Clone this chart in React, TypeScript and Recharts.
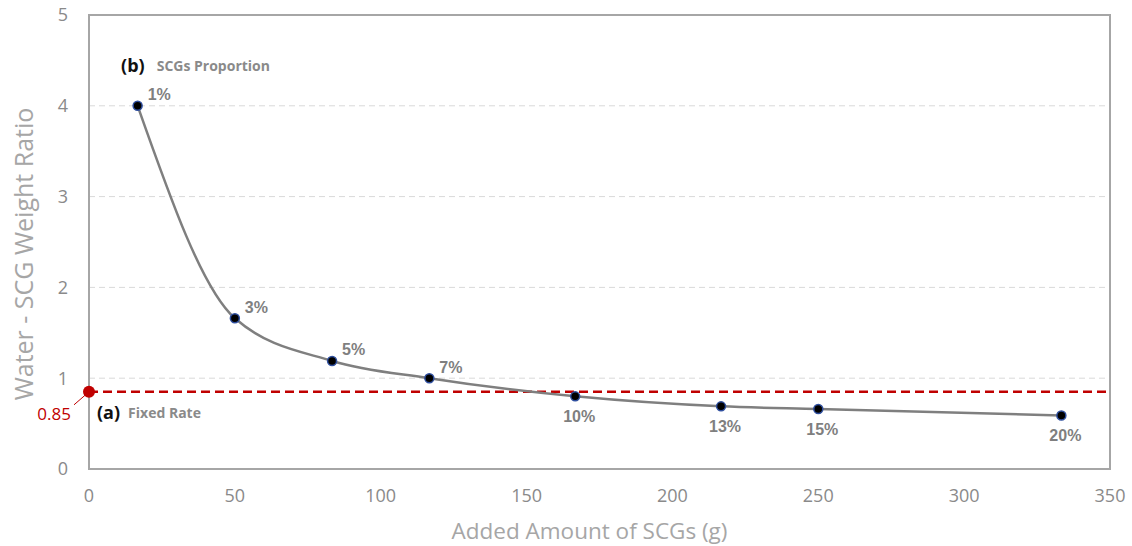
import { LineChart, Line, XAxis, YAxis, CartesianGrid, ReferenceLine, ReferenceDot, ReferenceArea, LabelList } from "recharts";

const SCG_ADDED = [16.67, 50, 83.33, 116.67, 166.67, 216.67, 250, 333.33];
const WATER_RATIO = [4.0, 1.66, 1.19, 1.0, 0.8, 0.69, 0.66, 0.59];
const PROPORTION = ["1%", "3%", "5%", "7%", "10%", "13%", "15%", "20%"];
const X_TICKS = [0, 50, 100, 150, 200, 250, 300, 350];
const Y_TICKS = [0, 1, 2, 3, 4, 5];
const FIXED_RATE = 0.85;

const GRAY_TEXT = "#8a8a8a";
const RED = "#c00000";

const data = SCG_ADDED.map((x, i) => ({ x, ratio: WATER_RATIO[i], label: PROPORTION[i] }));

function PointLabel(props: any) {
  const { x, y, index, value } = props;
  const below = index >= 4;
  return (
    <text
      x={below ? x + 4 : x + 10}
      y={below ? y + 20 : y - 11}
      textAnchor={below ? "middle" : "start"}
      dominantBaseline="central"
      fontFamily="Liberation Sans, Arial, sans-serif"
      fontWeight={700}
      fontSize={16}
      fill="#7f7f7f"
    >
      {value}
    </text>
  );
}

function FixedRateMarker(props: any) {
  const { cx, cy } = props;
  return (
    <g>
      <line x1={cx} y1={cy} x2={cx - 15} y2={cy + 13} stroke={RED} strokeWidth={1} />
      <circle cx={cx} cy={cy} r={6} fill={RED} />
      <text x={cx - 18} y={cy + 22} textAnchor="end" dominantBaseline="central" fontSize={17} fill={RED}>
        {FIXED_RATE}
      </text>
      <text x={cx + 8} y={cy + 20} dominantBaseline="central">
        <tspan fontWeight={700} fontSize={18} fill="#111">(a)</tspan>
        <tspan dx={8} fontWeight={700} fontSize={14} fill={GRAY_TEXT}>Fixed Rate</tspan>
      </text>
    </g>
  );
}

function ProportionTitle(props: any) {
  const { cx, cy } = props;
  return (
    <text x={cx} y={cy} dominantBaseline="central">
      <tspan fontWeight={700} fontSize={18} fill="#111">(b)</tspan>
      <tspan dx={12} fontWeight={700} fontSize={14} fill={GRAY_TEXT}>SCGs Proportion</tspan>
    </text>
  );
}

export default function App() {
  return (
    <div style={{ position: "absolute", left: 0, top: 0, fontFamily: "'Open Sans', sans-serif" }}>
      <LineChart width={1132} height={546} data={data} margin={{ top: 15, right: 22, bottom: 0, left: 0 }}>
        <CartesianGrid horizontal vertical={false} stroke="#d9d9d9" strokeDasharray="6 4" />
        <XAxis
          type="number"
          dataKey="x"
          domain={[0, 350]}
          ticks={X_TICKS}
          height={77}
          axisLine={false}
          tickLine={false}
          tickSize={0}
          tickMargin={20}
          tick={{ fontSize: 18, fill: GRAY_TEXT }}
          label={{
            content: ({ viewBox }: any) => (
              <text
                x={viewBox.x + viewBox.width / 2 - 10}
                y={viewBox.y + viewBox.height - 16}
                textAnchor="middle"
                dominantBaseline="central"
                fontSize={22.5}
                fill="#a6a6a6"
              >
                Added Amount of SCGs (g)
              </text>
            ),
          }}
        />
        <YAxis
          type="number"
          domain={[0, 5]}
          ticks={Y_TICKS}
          width={89}
          axisLine={false}
          tickLine={false}
          tickSize={0}
          tickMargin={21}
          tick={{ fontSize: 18, fill: GRAY_TEXT }}
          label={{
            content: ({ viewBox }: any) => {
              const cx = viewBox.x + 23;
              const cy = viewBox.y + viewBox.height / 2 + 12;
              return (
                <text
                  x={cx}
                  y={cy}
                  transform={`rotate(-90 ${cx} ${cy})`}
                  textAnchor="middle"
                  dominantBaseline="central"
                  fontSize={25}
                  fill="#a6a6a6"
                >
                  Water - SCG Weight Ratio
                </text>
              );
            },
          }}
        />
        <ReferenceArea x1={0} x2={350} y1={0} y2={5} fill="none" stroke="#a6a6a6" strokeWidth={2} ifOverflow="visible" />
        <ReferenceLine y={FIXED_RATE} stroke={RED} strokeWidth={2.5} strokeDasharray="9 5" />
        <Line
          type="monotone"
          dataKey="ratio"
          stroke="#7f7f7f"
          strokeWidth={2.5}
          isAnimationActive={false}
          dot={(p: any) => (
            <circle key={p.index} cx={p.cx} cy={p.cy} r={4.5} fill="#000" stroke="#2f4f9f" strokeWidth={1.5} />
          )}
          activeDot={false}
        >
          <LabelList dataKey="label" content={PointLabel} />
        </Line>
        <ReferenceDot x={0} y={FIXED_RATE} ifOverflow="visible" shape={FixedRateMarker} />
        <ReferenceDot x={11} y={4.45} ifOverflow="visible" shape={ProportionTitle} />
      </LineChart>
    </div>
  );
}
